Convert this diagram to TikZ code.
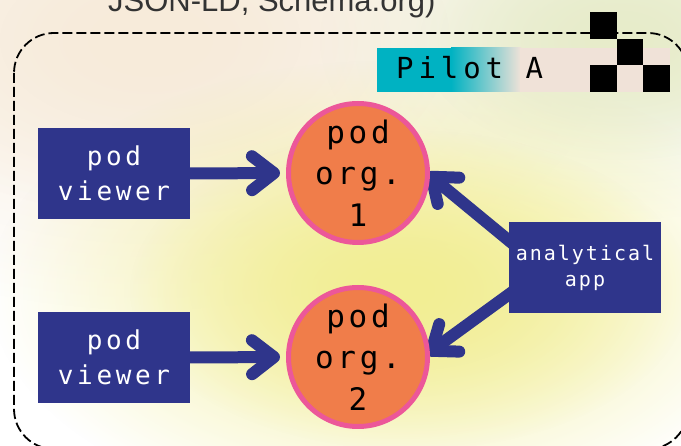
\documentclass[tikz,border=0pt]{standalone}
\usepackage{fontspec}
\setmainfont{DejaVu Sans Mono}
\newfontfamily\vfont[LetterSpace=14]{DejaVu Sans Mono}
\newfontfamily\cfont[LetterSpace=12]{DejaVu Sans Mono}
\newfontfamily\afont[LetterSpace=10]{DejaVu Sans Mono}
\newfontfamily\pfont[LetterSpace=17]{DejaVu Sans Mono}
\newfontfamily\headfont{Liberation Sans}
\usetikzlibrary{arrows.meta,fadings,calc}
\pgfdeclarelayer{back}
\pgfdeclarelayer{mid}
\pgfsetlayers{back,mid,main}
\definecolor{navy}{HTML}{2F358B}
\definecolor{orgorange}{HTML}{F07D4A}
\definecolor{orgpink}{HTML}{EC5799}
\definecolor{teal}{HTML}{00B2C2}
\definecolor{beige}{HTML}{F0E2D8}
\definecolor{bgpeach}{HTML}{F7EBDA}
\definecolor{bggreen}{HTML}{E7ECCA}
\definecolor{bgyellow}{HTML}{F2EE94}
\definecolor{headgray}{HTML}{333333}
\tikzfading[name=fuzzyedge, inner color=transparent!0, outer color=transparent!100]
\begin{document}
\begin{tikzpicture}[x=1pt,y=-1pt,
  flow/.style={line width=12pt, draw=navy, -{Straight Barb[length=22pt,width=34pt,round]}},
  viewerbox/.style={fill=navy, text=white, minimum width=152pt, minimum height=91pt, inner sep=0pt, align=center, font=\vfont\fontsize{26}{35}\selectfont},
  appbox/.style={fill=navy, text=white, minimum width=152pt, minimum height=91pt, inner sep=0pt, align=center, font=\afont\fontsize{20}{26}\selectfont},
  orgcircle/.style={circle, fill=orgorange, draw=orgpink, line width=5pt, minimum size=139pt, inner sep=0pt, align=center, font=\cfont\fontsize{31}{41.5}\selectfont},
  frame/.style={draw=black, dash pattern=on 10pt off 4pt, line width=1.8pt, rounded corners=40pt},
  checker/.style={fill=black},
  blob/.style={path fading=fuzzyedge},
]
\useasboundingbox (0,0) rectangle (681,446);
\begin{pgfonlayer}{back}
  \fill[white] (0,0) rectangle (681,446);
  % peach haze, top left
  \fill[bgpeach, blob] (150,40) ellipse [x radius=460pt, y radius=270pt];
  \fill[bgpeach, blob] (150,40) ellipse [x radius=300pt, y radius=175pt];
  % green haze, top right
  \fill[bggreen, blob] (620,40) ellipse [x radius=300pt, y radius=180pt];
  \fill[bggreen, blob] (620,40) ellipse [x radius=200pt, y radius=120pt];
  % yellow haze, middle
  \fill[bgyellow, blob] (390,290) ellipse [x radius=400pt, y radius=230pt];
  \fill[bgyellow, blob] (410,290) ellipse [x radius=280pt, y radius=160pt];
\end{pgfonlayer}

% cut-off heading
\node[anchor=base west, inner sep=0pt, text=headgray, font=\headfont\fontsize{31}{31}\selectfont] (head) at (108,11.5) {JSON-LD, Schema.org)};

% dashed frame
\draw[frame] (14,33) rectangle (688,449);

% banner
\fill[teal] (377,48) rectangle (452,92);
\shade[left color=teal, right color=beige] (451,48) rectangle (521,92);
\fill[beige] (520,48) rectangle (670,92);
\node[anchor=base west, inner sep=0pt, font=\pfont\fontsize{29}{29}\selectfont] (pilot) at (396,79) {Pilot A};
\fill[checker] (590,12) rectangle (616.5,38.7);
\fill[checker] (616.5,38.7) rectangle (643,65.5);
\fill[checker] (590,65.5) rectangle (616.5,92);
\fill[checker] (643,65.5) rectangle (669.5,92);

% nodes
\node[viewerbox] (v1) at (114,173.5) {pod\\viewer};
\node[viewerbox] (v2) at (114,357.5) {pod\\viewer};
\node[orgcircle] (c1) at (358,173) {pod\\org.\\1};
\node[orgcircle] (c2) at (358,357) {pod\\org.\\2};
\node[appbox] (app) at (585,267.5) {analytical\\app};

% connectors
\begin{pgfonlayer}{mid}
  \draw[flow, shorten >=6pt] (v1.east) -- (c1.west);
  \draw[flow, shorten >=6pt] (v2.east) -- (c2.west);
  \draw[flow, shorten <=-14pt, shorten >=-4pt] ($(app.west)+(0,-27)$) -- (c1.-2);
  \draw[flow, shorten <=-14pt, shorten >=-4pt] ($(app.west)+(0,27)$) -- (c2.4);
\end{pgfonlayer}
\end{tikzpicture}
\end{document}
